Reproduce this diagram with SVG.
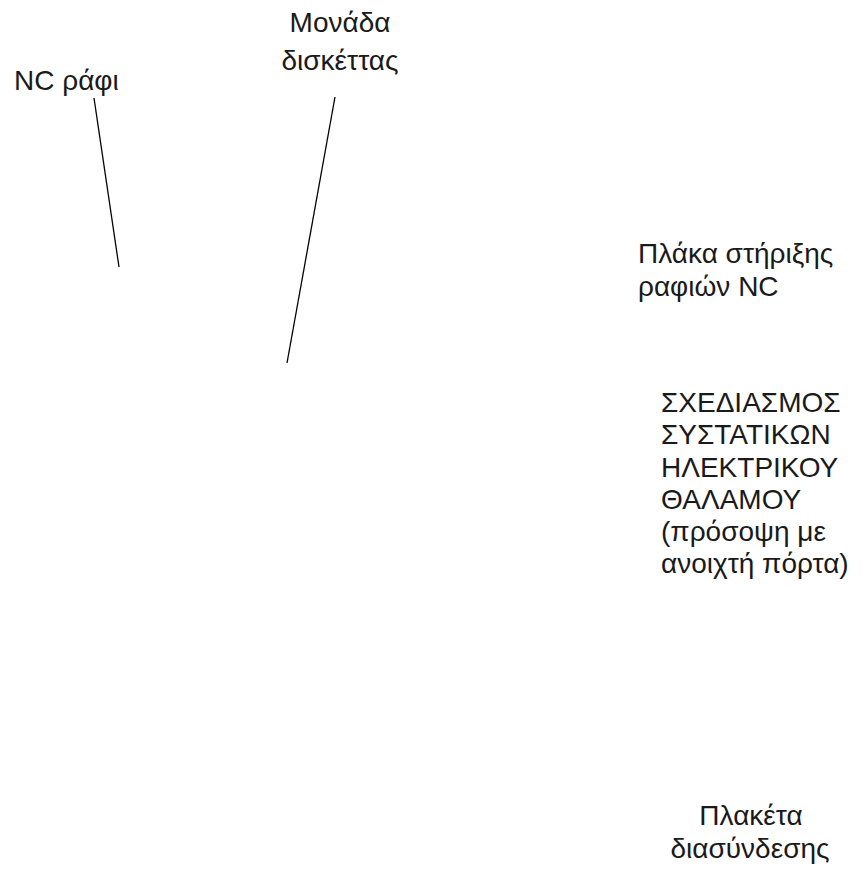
<svg xmlns="http://www.w3.org/2000/svg" width="863" height="873" viewBox="0 0 863 873">
<style>
text{font-family:"Liberation Sans",Arial,sans-serif;font-size:28px;fill:#1a1a1a}
.c{text-anchor:middle}
line{stroke:#000;stroke-width:1.3}
</style>
<rect width="863" height="873" fill="#fff"/>
<g id="nc-rafi"><text x="14" y="90">NC ράφι</text></g>
<g id="monada-disketas"><text class="c" x="340" y="32">Μονάδα</text><text class="c" x="340" y="70">δισκέττας</text></g>
<g id="plaka"><text x="638" y="263">Πλάκα στήριξης</text><text x="638" y="296">ραφιών NC</text></g>
<g id="title"><text x="661" y="412">ΣΧΕΔΙΑΣΜΟΣ</text><text x="661" y="444">ΣΥΣΤΑΤΙΚΩΝ</text><text x="661" y="477">ΗΛΕΚΤΡΙΚΟΥ</text><text x="661" y="509">ΘΑΛΑΜΟΥ</text><text x="661" y="541">(πρόσοψη με</text><text x="661" y="573">ανοιχτή πόρτα)</text></g>
<g id="plaketa"><text class="c" x="751" y="825">Πλακέτα</text><text class="c" x="750" y="858">διασύνδεσης</text></g>
<g id="connectors"><line x1="94" y1="98" x2="119" y2="267"/><line x1="335" y1="97" x2="287" y2="363"/></g>
</svg>
